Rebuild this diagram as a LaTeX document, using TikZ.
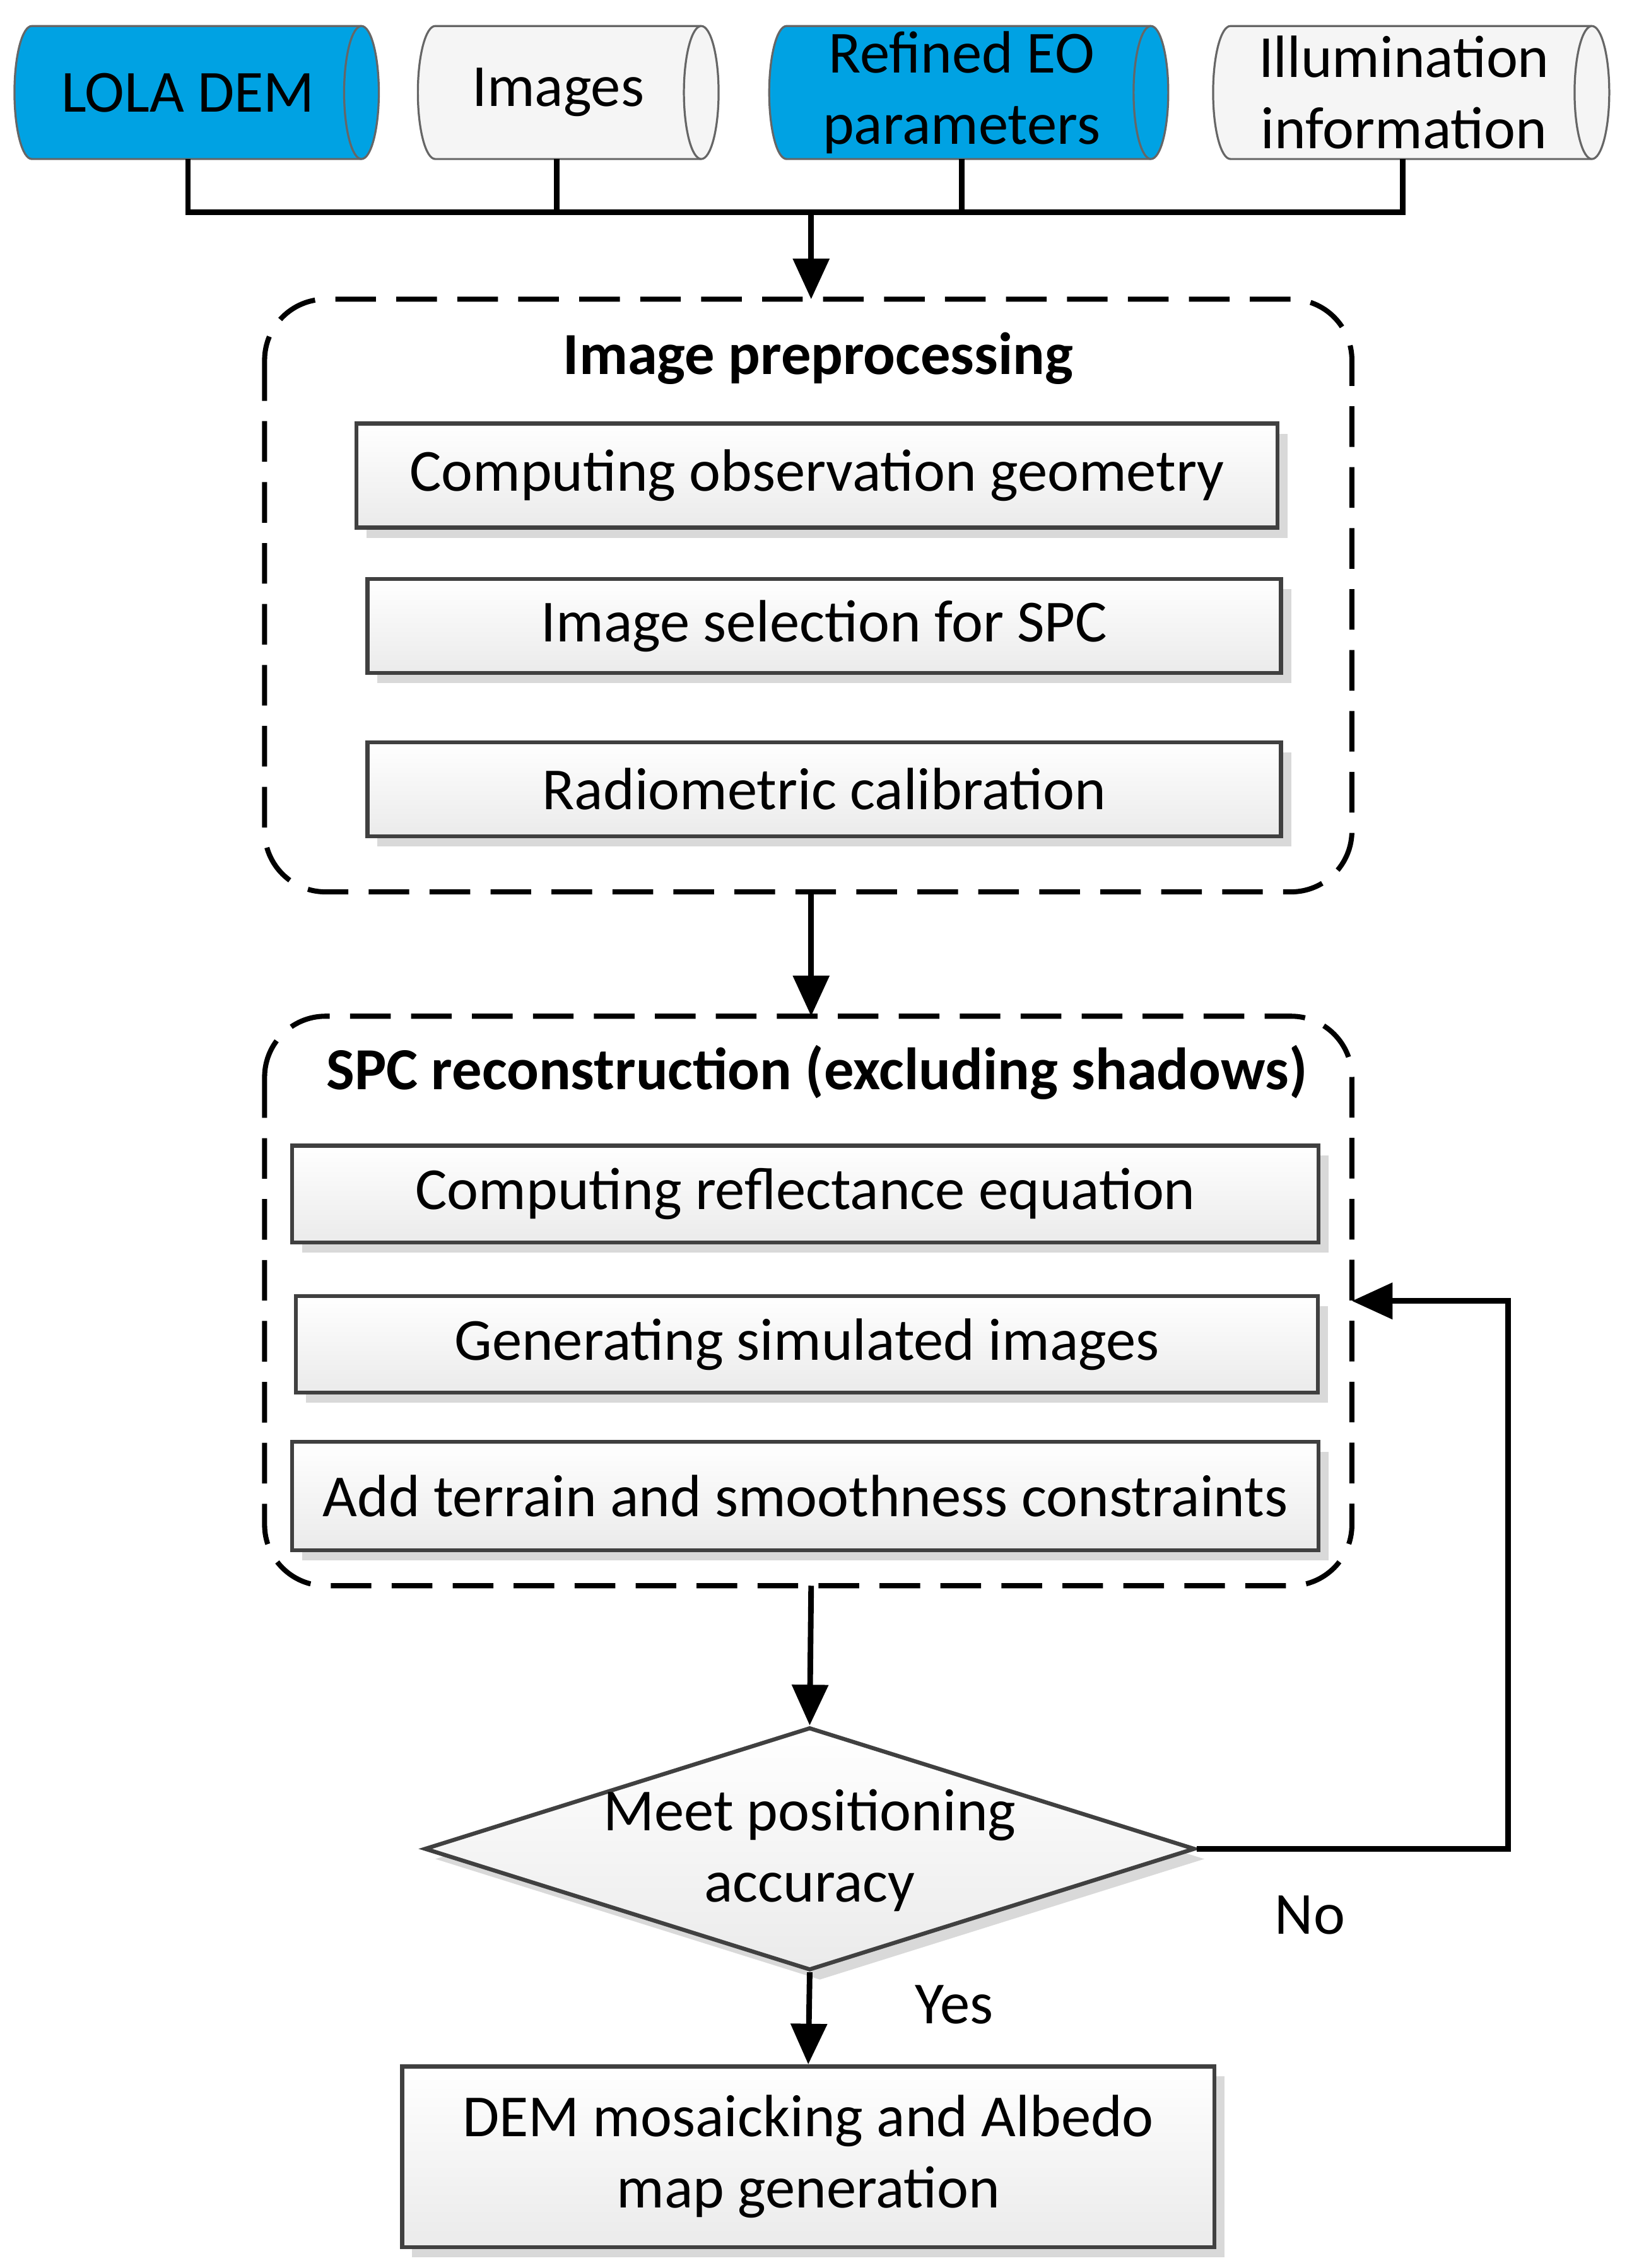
\documentclass[tikz,border=0pt]{standalone}
\usepackage{fontspec}
\setmainfont{Carlito}
\usetikzlibrary{arrows.meta, positioning, shapes.geometric, shadows}
\definecolor{dbblue}{HTML}{00A2E3}
\begin{document}
\begin{tikzpicture}[
  x=0.02cm, y=-0.02cm,
  font=\fontsize{23.5}{28}\selectfont,
  db/.style={draw=black!60, line width=0.8pt, fill=#1},
  procbox/.style={
    draw=black!75, line width=1.6pt, top color=white, bottom color=black!8,
    drop shadow={shadow xshift=4pt, shadow yshift=-4pt, fill=black!15, opacity=1},
    inner sep=0pt, align=center
  },
  group/.style={
    draw, line width=2pt, dash pattern=on 16pt off 8pt, rounded corners=24pt
  },
  arr/.style={
    -{Triangle[length=16pt, width=14pt]},
    line width=2.2pt
  },
  bus/.style={line width=2.2pt}
]
\useasboundingbox (0,0) rectangle (1125,1569);

% Inputs
\foreach \cx/\hl/\col/\nm in {136/126/dbblue/lola, 393/104/white!96!black/imgs, 670/138/dbblue/eo, 976/137/white!96!black/illum}{
  \draw [db=\col] (\cx-\hl+12,18) -- (\cx+\hl-12,18)
    arc[start angle=-90, end angle=90, x radius=12, y radius=46]
    -- (\cx-\hl+12,110)
    arc[start angle=90, end angle=270, x radius=12, y radius=46] -- cycle;
  \draw [db=\col] (\cx+\hl-12,18) arc[start angle=-90, end angle=-270, x radius=12, y radius=46];
  \coordinate (\nm) at (\cx,64);
}
\node (lolatxt) at (130,64) {LOLA DEM};
\node (imgstxt) at (386,64) {Images};
\node [align=center] (eotxt) at (665,64) {Refined EO\\parameters};
\node [align=center] (illumtxt) at (971,64) {Illumination\\information};

% Bus
\coordinate (b1) at (130,147);
\coordinate (b4) at (970,147);
\coordinate (bm) at (561,147);
\draw [bus] (130,110) -- (b1) -- (b4) -- (970,110);
\draw [bus] (385,110) -- (385,147);
\draw [bus] (665,110) -- (665,147);

% Image preprocessing
\draw [group] (183,207) rectangle (935,617);
\node [font=\fontsize{23.5}{28}\selectfont\bfseries] (pretitle) at (566,248) {Image preprocessing};
\node [procbox, minimum width=12.74cm, minimum height=1.44cm] (geom) at (565,329) {Computing observation geometry};
\node [procbox, minimum width=12.64cm, minimum height=1.3cm] (sel) at (570,433) {Image selection for SPC};
\node [procbox, minimum width=12.64cm, minimum height=1.3cm] (rad) at (570,546) {Radiometric calibration};
\coordinate (pretop) at (561,207);
\coordinate (prebot) at (561,617);
\draw [arr] (bm) -- (pretop);

% SPC reconstruction
\draw [group] (183,703) rectangle (935,1097);
\node [font=\fontsize{23.5}{28}\selectfont\bfseries] (spctitle) at (565,742) {SPC reconstruction (excluding shadows)};
\node [procbox, minimum width=14.2cm, minimum height=1.34cm] (refl) at (557,826) {Computing reflectance equation};
\node [procbox, minimum width=14.14cm, minimum height=1.34cm] (sim) at (558,930) {Generating simulated images};
\node [procbox, minimum width=14.2cm, minimum height=1.5cm] (cons) at (557,1035) {Add terrain and smoothness constraints};
\coordinate (spctop) at (561,703);
\coordinate (spcbot) at (561,1097);
\coordinate (spcin) at (935,900);
\draw [arr] (prebot) -- (spctop);

% Decision
\node [diamond, draw=black!75, line width=1.6pt, top color=white, bottom color=black!8,
  drop shadow={shadow xshift=4pt, shadow yshift=-4pt, fill=black!15, opacity=1},
  minimum width=10.66cm, minimum height=3.36cm, inner sep=0pt, align=center,
  aspect=3.2] (acc) at (560,1279) {};
\node [align=center] (acctxt) at (560,1280) {Meet positioning\\accuracy};
\draw [arr] (spcbot) -- (acc.north);
\coordinate (loop) at (1043,900);
\draw [arr] (acc.east) -| (loop) -- (spcin);
\node (no) at (906,1325) {No};
\node (yes) at (660,1387) {Yes};

% Output
\node [procbox, minimum width=11.24cm, minimum height=2.5cm] (out) at (559,1492) {DEM mosaicking and Albedo\\map generation};
\draw [arr] (acc.south) -- (out.north);
\end{tikzpicture}
\end{document}
